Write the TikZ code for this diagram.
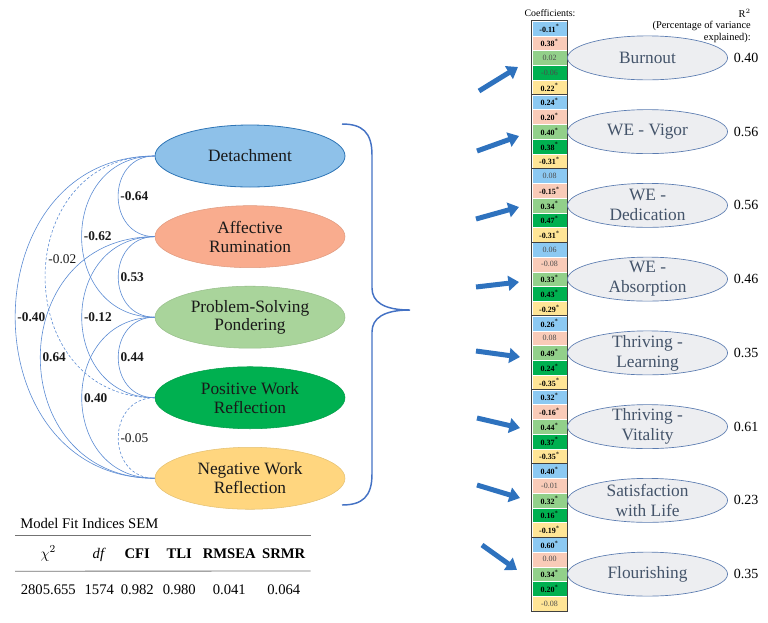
\documentclass[tikz,border=0pt]{standalone}
\usepackage{fontspec}
\setmainfont{Liberation Serif}
\usepackage{amsmath}
\usepackage{tikz}
\usetikzlibrary{matrix,positioning,arrows.meta,shapes.geometric}

\definecolor{detblue}{HTML}{8EC1E9}
\definecolor{detline}{HTML}{2E75B6}
\definecolor{affred}{HTML}{F9AC8E}
\definecolor{pspgreen}{HTML}{A9D49B}
\definecolor{pwrgreen}{HTML}{00B050}
\definecolor{nwryellow}{HTML}{FFD67F}
\definecolor{outgray}{HTML}{EDEEF1}
\definecolor{outborder}{HTML}{5A7BB0}
\definecolor{outtext}{HTML}{44546A}
\definecolor{arcblue}{HTML}{5B8BD3}
\definecolor{arrowblue}{HTML}{2E72BE}
\definecolor{braceblue}{HTML}{4472C4}
\definecolor{rowc1}{HTML}{8CC9F2}
\definecolor{rowc2}{HTML}{F9CBB8}
\definecolor{rowc3}{HTML}{92D08A}
\definecolor{rowc4}{HTML}{00B050}
\definecolor{rowc5}{HTML}{FFE596}

\newcommand{\sig}[1]{\color{black}\textbf{#1}\textsuperscript{*}}

\tikzset{
  factor/.style={ellipse, minimum width=142.5pt, minimum height=46.5pt, inner sep=0pt,
    align=center, text=black!90, font=\fontsize{13}{14}\selectfont},
  outcome/.style={ellipse, draw=outborder, fill=outgray, line width=0.5pt,
    minimum width=120pt, minimum height=33pt, inner xsep=0pt, inner ysep=-3pt,
    align=center, text=outtext, font=\fontsize{13}{15}\selectfont},
  corr/.style={arcblue, line width=0.45pt, out=180, in=180, looseness=1.55},
  corrlabel/.style={right, inner sep=1.5pt, text=black!90, font=\fontsize{10}{12}\selectfont\bfseries},
  cell/.style={minimum width=26.25pt, minimum height=11.06pt, inner sep=0pt,
    draw=white, line width=0.3pt, text=black!70, font=\fontsize{6}{7}\selectfont},
  bigarrow/.style={arrowblue, line width=3.75pt, -{Triangle[length=8pt,width=11pt]}},
}

\begin{document}
\begin{tikzpicture}[x=0.75pt, y=-0.75pt]
\useasboundingbox (0,0) rectangle (768,622);

% recovery experiences
\node[factor, fill=detblue, draw=detline, line width=0.6pt] (det) at (250,156) {Detachment};
\node[factor, fill=affred, draw=affred!90!black, below=13.5pt of det] (aff) {Affective\\Rumination};
\node[factor, fill=pspgreen, draw=pspgreen!90!black, below=13.5pt of aff] (psp) {Problem-Solving\\Pondering};
\node[factor, fill=pwrgreen, draw=pwrgreen!90!black, below=13.5pt of psp] (pwr) {Positive Work\\Reflection};
\node[factor, fill=nwryellow, draw=nwryellow!90!black, below=13.5pt of pwr] (nwr) {Negative Work\\Reflection};

% correlations
\draw[corr] (det.west) to node[corrlabel] {-0.64} (aff.west);
\draw[corr] (det.west) to node[corrlabel] {-0.62} (psp.west);
\draw[corr, dash pattern=on 2pt off 1.5pt] (det.west) to node[corrlabel, pos=0.45, font=\fontsize{10}{12}\selectfont] {-0.02} (pwr.west);
\draw[corr, looseness=1.48] (det.west) to node[corrlabel] {-0.40} (nwr.west);
\draw[corr] (aff.west) to node[corrlabel] {0.53} (psp.west);
\draw[corr] (aff.west) to node[corrlabel] {-0.12} (pwr.west);
\draw[corr, looseness=1.62] (aff.west) to node[corrlabel] {0.64} (nwr.west);
\draw[corr] (psp.west) to node[corrlabel] {0.44} (pwr.west);
\draw[corr] (psp.west) to node[corrlabel] {0.40} (nwr.west);
\draw[corr, dash pattern=on 2pt off 1.5pt] (pwr.west) to node[corrlabel, font=\fontsize{10}{12}\selectfont] {-0.05} (nwr.west);

% brace
\draw[braceblue, line width=1.1pt] (342,124) .. controls (362,124) and (372,132) .. (372,155)
  -- (372,288) .. controls (372,302) and (384,310) .. (410,310)
  .. controls (384,310) and (372,318) .. (372,332)
  -- (372,474) .. controls (372,497) and (362,505) .. (342,505);

% coefficient column
\foreach \vals [count=\g] in {
  {\sig{-0.11},\sig{0.38},0.02,-0.06,\sig{0.22}},
  {\sig{0.24},\sig{0.20},\sig{0.40},\sig{0.38},\sig{-0.31}},
  {0.08,\sig{-0.15},\sig{0.34},\sig{0.47},\sig{-0.31}},
  {0.06,-0.08,\sig{0.33},\sig{0.43},\sig{-0.29}},
  {\sig{0.26},0.08,\sig{0.49},\sig{0.24},\sig{-0.35}},
  {\sig{0.32},\sig{-0.16},\sig{0.44},\sig{0.37},\sig{-0.35}},
  {\sig{0.40},-0.01,\sig{0.32},\sig{0.16},\sig{-0.19}},
  {\sig{0.60},0.00,\sig{0.34},\sig{0.20},-0.08}}{
  \foreach \v [count=\r] in \vals {
    \node[cell, fill=rowc\r] (c-\g-\r) at (549.5,{21+((\g-1)*5+\r-0.5)*14.75}) {\v};
  }
  \draw[black!75, line width=0.5pt] (c-\g-1.north west) rectangle (c-\g-5.south east);
}

\node[font=\fontsize{7.4}{8}\selectfont] (coefhead) at (550,13) {Coefficients:};
\node[anchor=north east, align=right, inner sep=0pt, font=\fontsize{7.8}{8.6}\selectfont]
  (rsqhead) at (751,9) {R$^2$\\(Percentage of variance\\explained):};

% outcomes
\foreach \name/\txt/\rsq [count=\g] in {burnout/Burnout/0.40, vigor/WE - Vigor/0.56,
    dedic/{WE -\\Dedication}/0.56, absorp/{WE -\\Absorption}/0.46,
    learn/{Thriving -\\Learning}/0.35, vital/{Thriving -\\Vitality}/0.61,
    satis/{Satisfaction\\with Life}/0.23, flour/Flourishing/0.35}{
  \node[outcome, right=0pt of c-\g-3] (\name) {\txt};
  \node[right=1pt of \name, font=\fontsize{10.5}{12}\selectfont] (r-\name) {\rsq};
}

% arrows
\foreach \tx/\ty/\hx/\hy [count=\g] in {479/91/518/67, 477/151/519/136, 476/219/519/207,
    476/287/519/282, 476/351/520/357, 477/418/520/428, 477/485/520/498, 482/545/517/570}{
  \coordinate (tail-\g) at (\tx,\ty);
  \coordinate (tip-\g) at (\hx,\hy);
  \draw[bigarrow] (tail-\g) -- (tip-\g);
}

% fit indices
\node[anchor=west, inner sep=0pt, font=\fontsize{11}{13}\selectfont] (fittitle) at (20,523) {Model Fit Indices SEM};
\matrix (fit) [matrix of nodes, anchor=north west, inner sep=0pt, row sep=0pt, column sep=0pt,
  nodes={inner sep=0pt, minimum height=26.25pt, align=center, font=\fontsize{11}{13}\selectfont},
  column 1/.style={nodes={text width=49.5pt}},
  column 2/.style={nodes={text width=27pt}},
  column 3/.style={nodes={text width=30pt}},
  column 4/.style={nodes={text width=33pt}},
  column 5/.style={nodes={text width=42pt}},
  column 6/.style={nodes={text width=39.75pt}}] at (15,535.5)
{
  $\chi^2$ & \textit{df} & \textbf{CFI} & \textbf{TLI} & \textbf{RMSEA} & \textbf{SRMR} \\
  2805.655 & 1574 & 0.982 & 0.980 & 0.041 & 0.064 \\
};
\draw[black!55, line width=0.6pt] (fit.north west) -- (fit.north east);
\draw[black!55, line width=0.6pt] (fit-1-1.south west) -- (fit-1-6.south east);
\end{tikzpicture}
\end{document}
